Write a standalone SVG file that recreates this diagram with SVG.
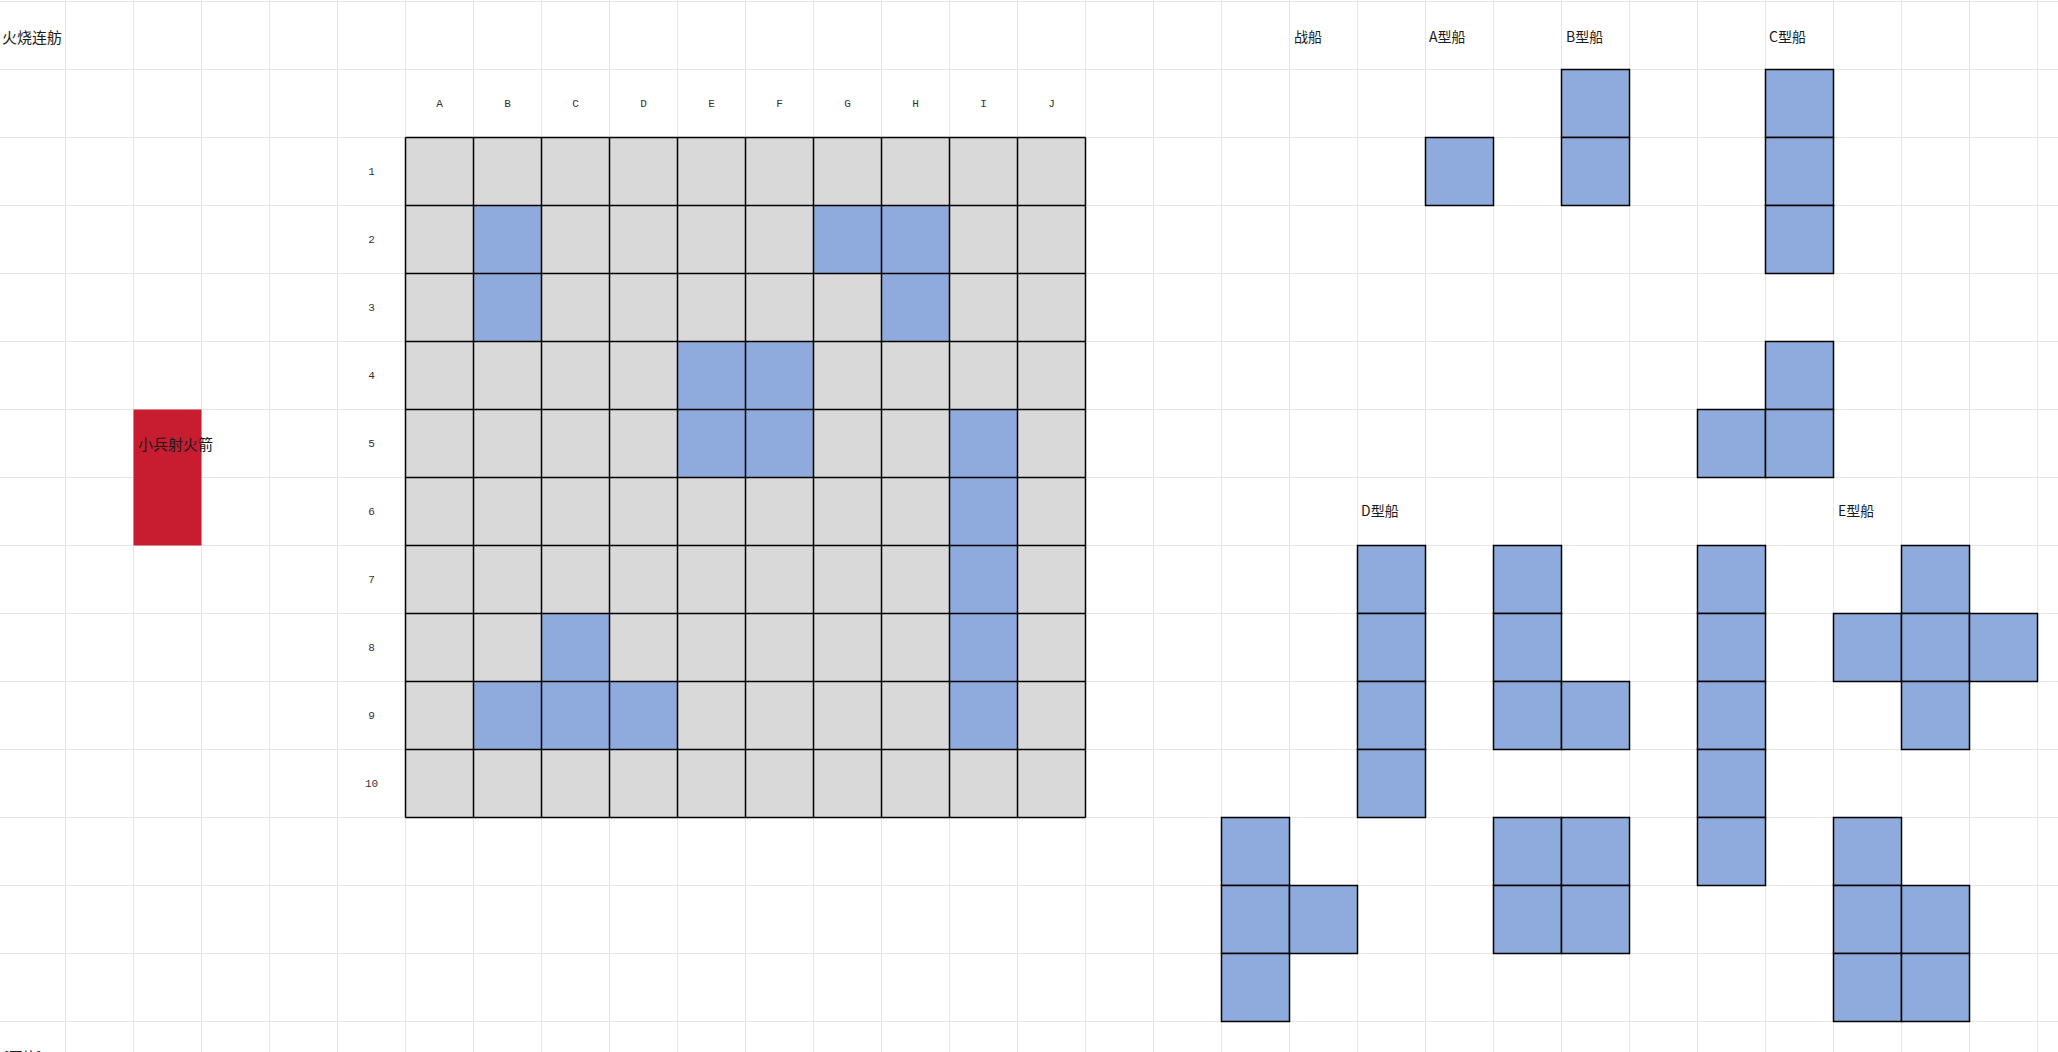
<svg xmlns="http://www.w3.org/2000/svg" xmlns:xlink="http://www.w3.org/1999/xlink" width="2058" height="1052" viewBox="0 0 2058 1052">
<style>
.gl{stroke:#e6e6e6;stroke-width:1;fill:none}
.bl{fill:#8faadc;stroke:#000;stroke-width:1.5}
.gr{fill:#d9d9d9}
.bk{stroke:#000;stroke-width:1.5;fill:none}
.cj{font-family:"Noto Sans CJK SC","Noto Sans CJK JP",sans-serif;fill:#1a1a1a}
.lb{font-family:"Liberation Mono","DejaVu Sans Mono",monospace;font-size:11px;fill:#333;text-anchor:middle}
</style>
<defs>
<rect id="c" width="68" height="68" class="bl"/>
</defs>
<rect width="2058" height="1052" fill="#fff"/>
<g id="sheet-grid" class="gl">
<path d="M65.5 0V1052M133.5 0V1052M201.5 0V1052M269.5 0V1052M337.5 0V1052M405.5 0V1052M473.5 0V1052M541.5 0V1052M609.5 0V1052M677.5 0V1052M745.5 0V1052M813.5 0V1052M881.5 0V1052M949.5 0V1052M1017.5 0V1052M1085.5 0V1052M1153.5 0V1052M1221.5 0V1052M1289.5 0V1052M1357.5 0V1052M1425.5 0V1052M1493.5 0V1052M1561.5 0V1052M1629.5 0V1052M1697.5 0V1052M1765.5 0V1052M1833.5 0V1052M1901.5 0V1052M1969.5 0V1052M2037.5 0V1052"/>
<path d="M0 1.5H2058M0 69.5H2058M0 137.5H2058M0 205.5H2058M0 273.5H2058M0 341.5H2058M0 409.5H2058M0 477.5H2058M0 545.5H2058M0 613.5H2058M0 681.5H2058M0 749.5H2058M0 817.5H2058M0 885.5H2058M0 953.5H2058M0 1021.5H2058"/>
</g>
<text class="cj" x="2" y="43" font-size="15" fill="#111">火烧连舫</text>
<g id="soldier">
<rect x="133.5" y="409.5" width="68" height="136" fill="#c81d31"/>
<text class="cj" x="138" y="450" font-size="15">小兵射火箭</text>
</g>
<g id="board">
<rect class="gr" x="405.5" y="137.5" width="680" height="680"/>
<g fill="#8faadc">
<rect x="473.5" y="205.5" width="68" height="136"/>
<rect x="813.5" y="205.5" width="136" height="68"/>
<rect x="881.5" y="273.5" width="68" height="68"/>
<rect x="677.5" y="341.5" width="136" height="136"/>
<rect x="949.5" y="409.5" width="68" height="340"/>
<rect x="541.5" y="613.5" width="68" height="68"/>
<rect x="473.5" y="681.5" width="204" height="68"/>
</g>
<path class="bk" d="M405.5 137.5V817.5M473.5 137.5V817.5M541.5 137.5V817.5M609.5 137.5V817.5M677.5 137.5V817.5M745.5 137.5V817.5M813.5 137.5V817.5M881.5 137.5V817.5M949.5 137.5V817.5M1017.5 137.5V817.5M1085.5 137.5V817.5M405.5 137.5H1085.5M405.5 205.5H1085.5M405.5 273.5H1085.5M405.5 341.5H1085.5M405.5 409.5H1085.5M405.5 477.5H1085.5M405.5 545.5H1085.5M405.5 613.5H1085.5M405.5 681.5H1085.5M405.5 749.5H1085.5M405.5 817.5H1085.5"/>
<g class="lb">
<text x="439.5" y="107">A</text><text x="507.5" y="107">B</text><text x="575.5" y="107">C</text><text x="643.5" y="107">D</text><text x="711.5" y="107">E</text><text x="779.5" y="107">F</text><text x="847.5" y="107">G</text><text x="915.5" y="107">H</text><text x="983.5" y="107">I</text><text x="1051.5" y="107">J</text>
<text x="371.5" y="175">1</text><text x="371.5" y="243">2</text><text x="371.5" y="311">3</text><text x="371.5" y="379">4</text><text x="371.5" y="447">5</text><text x="371.5" y="515">6</text><text x="371.5" y="583">7</text><text x="371.5" y="651">8</text><text x="371.5" y="719">9</text><text x="371.5" y="787">10</text>
</g>
</g>
<g id="labels" class="cj" font-size="14">
<text x="1294" y="42">战船</text>
<text x="1429" y="42">A型船</text>
<text x="1566" y="42">B型船</text>
<text x="1769" y="42">C型船</text>
<text x="1361" y="516">D型船</text>
<text x="1838" y="516">E型船</text>
</g>
<g id="ship-a"><use xlink:href="#c" x="1425.5" y="137.5"/></g>
<g id="ship-b"><use xlink:href="#c" x="1561.5" y="69.5"/><use xlink:href="#c" x="1561.5" y="137.5"/></g>
<g id="ship-c1"><use xlink:href="#c" x="1765.5" y="69.5"/><use xlink:href="#c" x="1765.5" y="137.5"/><use xlink:href="#c" x="1765.5" y="205.5"/></g>
<g id="ship-c2"><use xlink:href="#c" x="1765.5" y="341.5"/><use xlink:href="#c" x="1697.5" y="409.5"/><use xlink:href="#c" x="1765.5" y="409.5"/></g>
<g id="ship-d1"><use xlink:href="#c" x="1357.5" y="545.5"/><use xlink:href="#c" x="1357.5" y="613.5"/><use xlink:href="#c" x="1357.5" y="681.5"/><use xlink:href="#c" x="1357.5" y="749.5"/></g>
<g id="ship-d2"><use xlink:href="#c" x="1493.5" y="545.5"/><use xlink:href="#c" x="1493.5" y="613.5"/><use xlink:href="#c" x="1493.5" y="681.5"/><use xlink:href="#c" x="1561.5" y="681.5"/></g>
<g id="ship-d3"><use xlink:href="#c" x="1493.5" y="817.5"/><use xlink:href="#c" x="1561.5" y="817.5"/><use xlink:href="#c" x="1493.5" y="885.5"/><use xlink:href="#c" x="1561.5" y="885.5"/></g>
<g id="ship-d4"><use xlink:href="#c" x="1221.5" y="817.5"/><use xlink:href="#c" x="1221.5" y="885.5"/><use xlink:href="#c" x="1221.5" y="953.5"/><use xlink:href="#c" x="1289.5" y="885.5"/></g>
<g id="ship-e1"><use xlink:href="#c" x="1697.5" y="545.5"/><use xlink:href="#c" x="1697.5" y="613.5"/><use xlink:href="#c" x="1697.5" y="681.5"/><use xlink:href="#c" x="1697.5" y="749.5"/><use xlink:href="#c" x="1697.5" y="817.5"/></g>
<g id="ship-e2"><use xlink:href="#c" x="1901.5" y="545.5"/><use xlink:href="#c" x="1833.5" y="613.5"/><use xlink:href="#c" x="1901.5" y="613.5"/><use xlink:href="#c" x="1969.5" y="613.5"/><use xlink:href="#c" x="1901.5" y="681.5"/></g>
<g id="ship-e3"><use xlink:href="#c" x="1833.5" y="817.5"/><use xlink:href="#c" x="1833.5" y="885.5"/><use xlink:href="#c" x="1833.5" y="953.5"/><use xlink:href="#c" x="1901.5" y="885.5"/><use xlink:href="#c" x="1901.5" y="953.5"/></g>
<text class="cj" x="4" y="1062" font-size="14">[图片]</text>
</svg>
